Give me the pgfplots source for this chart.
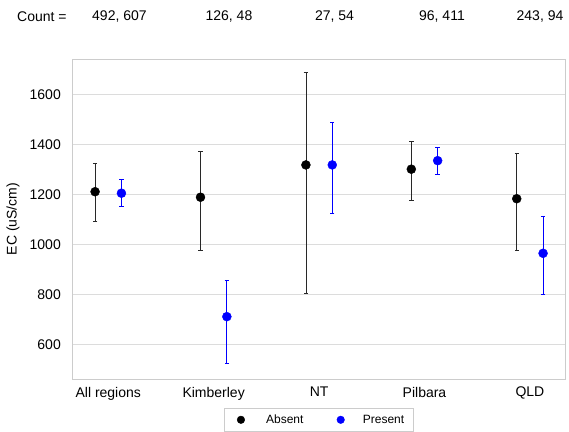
\documentclass[border=0pt]{standalone}
\usepackage{pgfplots}
\pgfplotsset{compat=1.18}
\usepackage{pgfplotstable}
\usepackage{fontspec}
\setmainfont{Liberation Sans}

\definecolor{gridgray}{RGB}{220,220,220}
\definecolor{spinegray}{RGB}{204,204,204}
\definecolor{barblack}{RGB}{40,40,40}

% mean EC with upper / lower interval offsets
\pgfplotstableread{
x      y    ep   em
-0.125 1211 112  117
0.875  1189 184  214
1.875  1318 371  513
2.875  1301 112  124
3.875  1183 182  206
}\absent
\pgfplotstableread{
x      y    ep   em
0.125  1205 56   51
1.125  712  146  188
2.125  1318 170  195
3.125  1335 54   53
4.125  965  148  165
}\present

\begin{document}
\begin{tikzpicture}
\path (0pt,0pt) rectangle (569pt,430pt);
\begin{axis}[
  at={(72pt,51pt)}, anchor=south west,
  scale only axis, width=493pt, height=320pt,
  xmin=-0.344, xmax=4.333, ymin=463, ymax=1741,
  xtick={0,1,2,3,4},
  xticklabels={All regions,Kimberley,NT,Pilbara,QLD},
  ytick={600,800,1000,1200,1400,1600},
  ymajorgrids,
  grid style={color=gridgray, line width=0.8pt},
  axis line style={color=spinegray, line width=0.8pt},
  major tick length=0pt,
  tick label style={font=\fontsize{14}{16}\selectfont},
  yticklabel style={inner sep=0pt, xshift=-11pt},
  xticklabel style={inner sep=0pt, yshift=-8pt},
  /pgf/number format/assume math mode=true,
  /pgf/number format/1000 sep={},
  ylabel={EC (uS/cm)},
  ylabel style={at={(axis description cs:-0.1197,0.5)}, anchor=center,
    font=\fontsize{14}{16}\selectfont},
  clip=false,
  legend columns=2,
  legend style={at={(0.5,-0.0906)}, anchor=north, draw=spinegray,
    inner xsep=9pt, inner ysep=6.5pt,
    column sep=0pt,
    nodes={inner sep=0pt},
    font=\fontsize{12}{14}\selectfont},
]
\addplot+[only marks, mark=*, color=black, mark options={fill=black}, mark size=4.5pt,
  legend image code/.code={\path (-8pt,0pt) (25pt,0pt);
    \fill[black] (0pt,0pt) circle (3.8pt);},
  error bars/.cd, y dir=both, y explicit,
  error bar style={line width=0.8pt, color=barblack},
  error mark=-,
  error mark options={rotate=90, mark size=2.2pt, line width=0.8pt, color=barblack}]
  table[x=x, y=y, y error plus=ep, y error minus=em]{\absent};
\addlegendentry{Absent}
\addplot+[only marks, mark=*, color=blue, mark options={fill=blue}, mark size=4.5pt,
  legend image code/.code={\path (-37pt,0pt) (22pt,0pt);
    \fill[blue] (0pt,0pt) circle (3.8pt);},
  error bars/.cd, y dir=both, y explicit,
  error bar style={line width=0.8pt, color=blue},
  error mark=-,
  error mark options={rotate=90, mark size=2.2pt, line width=0.8pt, color=blue}]
  table[x=x, y=y, y error plus=ep, y error minus=em]{\present};
\addlegendentry{Present}

% sample counts (absent, present) above each region
\begin{scope}[every node/.style={font=\fontsize{14}{16}\selectfont, yshift=42pt}]
\node at (axis cs:-0.629,1741) {Count =};
\node at (axis cs:0.106,1741) {492, 607};
\node at (axis cs:1.145,1741) {126, 48};
\node at (axis cs:2.146,1741) {27, 54};
\node at (axis cs:3.166,1741) {96, 411};
\node at (axis cs:4.096,1741) {243, 94};
\end{scope}
\end{axis}
\end{tikzpicture}
\end{document}
